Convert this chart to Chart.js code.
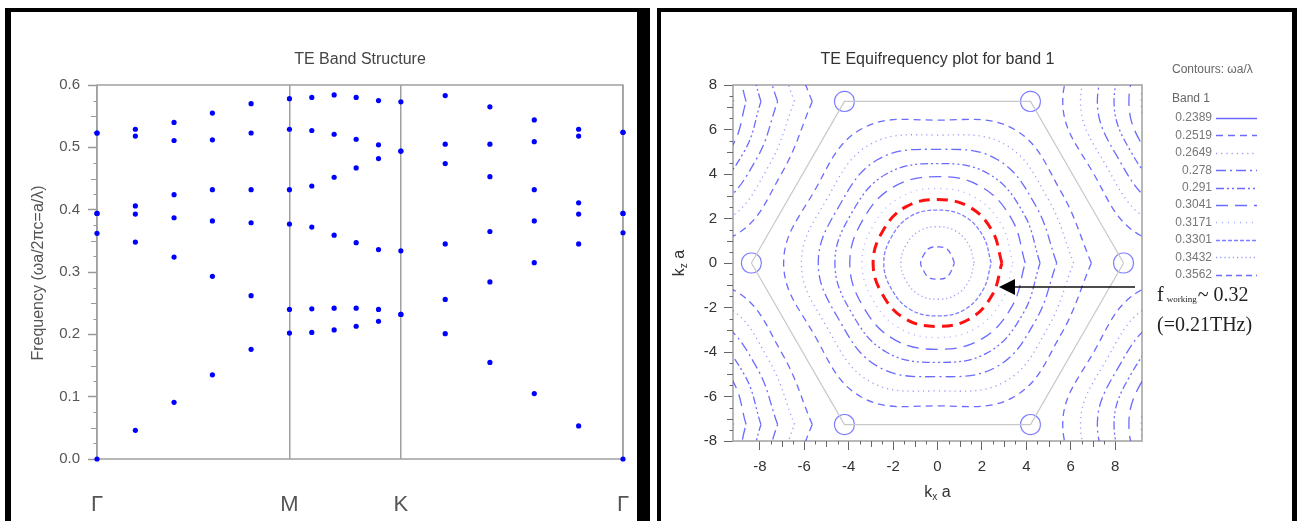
<!DOCTYPE html>
<html>
<head>
<meta charset="utf-8">
<script src="https://cdn.jsdelivr.net/npm/chart.js@4.4.1/dist/chart.umd.min.js"></script>
<style>
  body { margin: 0; background: #fff; }
  #page { position: relative; width: 1297px; height: 521px; overflow: hidden; background: #fff; }
  .blk { position: absolute; background: #000; }
  canvas { position: absolute; }
</style>
</head>
<body>
<div id="page">
  <div class="blk" style="left:5px;top:8px;width:645px;height:4px"></div>
  <div class="blk" style="left:5px;top:8px;width:6px;height:513px"></div>
  <div class="blk" style="left:637px;top:8px;width:13px;height:513px"></div>
  <div class="blk" style="left:657px;top:8px;width:640px;height:4px"></div>
  <div class="blk" style="left:657px;top:8px;width:4px;height:513px"></div>
  <div class="blk" style="left:1292px;top:8px;width:5px;height:513px"></div>
  <canvas id="bandChart" width="625" height="509" style="left:12px;top:12px"></canvas>
  <canvas id="contourChart" width="631" height="509" style="left:661px;top:12px"></canvas>
</div>
<script>
// ---- band structure (left) ----
// position of each computed k point along Γ-M-K-Γ
var kPath = [0, 0.115, 0.231, 0.346, 0.462, 0.577, 0.644, 0.711, 0.777, 0.844, 0.911, 1.044, 1.178, 1.311, 1.444, 1.577];
var symPos = [0, 0.577, 0.911, 1.577];
var symLabels = ["Γ", "M", "K", "Γ"];
var freqTicks = [0, 0.1, 0.2, 0.3, 0.4, 0.5, 0.6];

var band1 = [0, 0.046, 0.091, 0.135, 0.176, 0.202, 0.203, 0.207, 0.213, 0.221, 0.232, 0.201, 0.155, 0.105, 0.053, 0];
var band2 = [0.362, 0.348, 0.324, 0.293, 0.262, 0.240, 0.241, 0.242, 0.242, 0.240, 0.232, 0.256, 0.284, 0.315, 0.345, 0.363];
var band3 = [0.394, 0.393, 0.387, 0.382, 0.379, 0.377, 0.372, 0.359, 0.347, 0.336, 0.334, 0.345, 0.365, 0.382, 0.393, 0.394];
var band4 = [0.394, 0.406, 0.424, 0.432, 0.432, 0.432, 0.438, 0.452, 0.467, 0.482, 0.494, 0.474, 0.453, 0.432, 0.411, 0.394];
var band5 = [0.523, 0.518, 0.511, 0.512, 0.523, 0.529, 0.527, 0.521, 0.513, 0.504, 0.494, 0.505, 0.505, 0.509, 0.518, 0.524];
var band6 = [0.523, 0.529, 0.540, 0.555, 0.570, 0.578, 0.580, 0.584, 0.580, 0.575, 0.573, 0.583, 0.565, 0.544, 0.529, 0.524];

// ---- equifrequency contours (right) ----
var kTicks = [-8, -6, -4, -2, 0, 2, 4, 6, 8];
var contourLevels = ["0.2389", "0.2519", "0.2649", "0.278", "0.291", "0.3041", "0.3171", "0.3301", "0.3432", "0.3562"];

// contour outlines, (kx a, kz a) around a zone centre
var c2389 = [[0.45,0],[0.39,0.23],[0.23,0.39],[0,0.45],[-0.23,0.39],[-0.39,0.23],[-0.45,0],[-0.39,-0.23],[-0.23,-0.39],[0,-0.45],[0.23,-0.39],[0.39,-0.23]];
var c2519 = [[6.93,0],[5.56,3.21],[3.47,6.00],[0,6.42],[-3.47,6.00],[-5.56,3.21],[-6.93,0],[-5.56,-3.21],[-3.47,-6.00],[0,-6.42],[3.47,-6.00],[5.56,-3.21]];
var c2649 = [[6.13,0],[4.98,2.88],[3.07,5.31],[0,5.75],[-3.07,5.31],[-4.98,2.88],[-6.13,0],[-4.98,-2.88],[-3.07,-5.31],[0,-5.75],[3.07,-5.31],[4.98,-2.88]];
var c278 = [[5.37,0],[4.43,2.56],[2.69,4.65],[0,5.11],[-2.69,4.65],[-4.43,2.56],[-5.37,0],[-4.43,-2.56],[-2.69,-4.65],[0,-5.11],[2.69,-4.65],[4.43,-2.56]];
var c291 = [[4.62,0],[3.87,2.24],[2.31,4.00],[0,4.47],[-2.31,4.00],[-3.87,2.24],[-4.62,0],[-3.87,-2.24],[-2.31,-4.00],[0,-4.47],[2.31,-4.00],[3.87,-2.24]];
var c3041 = [[3.95,0],[3.36,1.94],[1.98,3.42],[0,3.88],[-1.98,3.42],[-3.36,1.94],[-3.95,0],[-3.36,-1.94],[-1.98,-3.42],[0,-3.88],[1.98,-3.42],[3.36,-1.94]];
var c3171 = [[3.40,0],[2.90,1.68],[1.70,2.94],[0,3.35],[-1.70,2.94],[-2.90,1.68],[-3.40,0],[-2.90,-1.68],[-1.70,-2.94],[0,-3.35],[1.70,-2.94],[2.90,-1.68]];
var c3301 = [[2.42,0],[2.06,1.19],[1.21,2.10],[0,2.38],[-1.21,2.10],[-2.06,1.19],[-2.42,0],[-2.06,-1.19],[-1.21,-2.10],[0,-2.38],[1.21,-2.10],[2.06,-1.19]];
var c3432 = [[1.65,0],[1.41,0.82],[0.83,1.43],[0,1.63],[-0.83,1.43],[-1.41,0.82],[-1.65,0],[-1.41,-0.82],[-0.83,-1.43],[0,-1.63],[0.83,-1.43],[1.41,-0.82]];
var c3562 = [[0.76,0],[0.62,0.36],[0.38,0.66],[0,0.72],[-0.38,0.66],[-0.62,0.36],[-0.76,0],[-0.62,-0.36],[-0.38,-0.66],[0,-0.72],[0.38,-0.66],[0.62,-0.36]];
// working frequency contour (~0.32), highlighted in red
var cWorking = [[2.90,0],[2.47,1.43],[1.45,2.51],[0,2.85],[-1.45,2.51],[-2.47,1.43],[-2.90,0],[-2.47,-1.43],[-1.45,-2.51],[0,-2.85],[1.45,-2.51],[2.47,-1.43]];

// first Brillouin zone corners and the neighbouring zone centres
var bzHex = [[8.38,0],[4.19,7.26],[-4.19,7.26],[-8.38,0],[-4.19,-7.26],[4.19,-7.26],[8.38,0]];
var zoneCenters = [[0,0],[12.57,7.26],[12.57,-7.26],[-12.57,7.26],[-12.57,-7.26]];

var contourDash = [[], [7,5], [1.2,4], [10,4,2,4], [8,3,2,3,2,3], [12,7], [1,5], [4,2], [1.2,3], [6,4]];
var contourAlpha = [0.8, 0.8, 0.55, 0.8, 0.8, 0.8, 0.45, 0.7, 0.55, 0.8];

Chart.defaults.font.family = 'Arial, "Liberation Sans", sans-serif';

function shifted(pts, c) {
  var out = pts.map(function (p) { return { x: p[0] + c[0], y: p[1] + c[1] }; });
  out.push({ x: pts[0][0] + c[0], y: pts[0][1] + c[1] });
  return out;
}

var bandDecor = {
  id: "bandDecor",
  beforeDatasetsDraw: function (chart) {
    var ctx = chart.ctx, a = chart.chartArea, y = chart.scales.y;
    ctx.save();
    ctx.strokeStyle = "#a0a0a0";
    ctx.lineWidth = 1.5;
    ctx.strokeRect(a.left, a.top, a.right - a.left, a.bottom - a.top);
    ctx.strokeStyle = "#999";
    ctx.lineWidth = 1;
    for (var i = 1; i < 24; i++) {
      if (i % 4 === 0) continue;
      var py = Math.round(y.getPixelForValue(i * 0.025)) + 0.5;
      var len = (i % 2 === 0) ? 6 : 3.5;
      ctx.beginPath();
      ctx.moveTo(a.left - len, py);
      ctx.lineTo(a.left, py);
      ctx.stroke();
    }
    ctx.fillStyle = "#444";
    ctx.font = '16px Arial, "Liberation Sans", sans-serif';
    ctx.textAlign = "center";
    ctx.textBaseline = "middle";
    ctx.fillText("TE Band Structure", (a.left + a.right) / 2, 48);
    ctx.fillStyle = "#555";
    ctx.translate(27, 261);
    ctx.rotate(-Math.PI / 2);
    ctx.fillText("Frequency (ωa/2πc=a/λ)", 0, 0);
    ctx.restore();
  }
};

var contourDecor = {
  id: "contourDecor",
  beforeDatasetsDraw: function (chart) {
    var ctx = chart.ctx, a = chart.chartArea, x = chart.scales.x, y = chart.scales.y;
    ctx.save();
    ctx.strokeStyle = "#a0a0a0";
    ctx.lineWidth = 1.5;
    ctx.strokeRect(a.left, a.top, a.right - a.left, a.bottom - a.top);
    ctx.strokeStyle = "#666";
    ctx.lineWidth = 1;
    for (var i = -16; i <= 16; i++) {
      if (i % 4 === 0) continue;
      var len = (i % 2 === 0) ? 6 : 3.5;
      var py = Math.round(y.getPixelForValue(i * 0.5)) + 0.5;
      ctx.beginPath(); ctx.moveTo(a.left - len, py); ctx.lineTo(a.left, py); ctx.stroke();
      var px = Math.round(x.getPixelForValue(i * 0.5)) + 0.5;
      ctx.beginPath(); ctx.moveTo(px, a.bottom); ctx.lineTo(px, a.bottom + len); ctx.stroke();
    }
    ctx.fillStyle = "#333";
    ctx.font = '16px Arial, "Liberation Sans", sans-serif';
    ctx.textAlign = "center";
    ctx.textBaseline = "middle";
    ctx.fillText("TE Equifrequency plot for band 1", (a.left + a.right) / 2, 48);
    ctx.restore();
  },
  afterDraw: function (chart) {
    var ctx = chart.ctx, a = chart.chartArea;
    ctx.save();
    // axis titles with subscripts
    function kLabel(sub) {
      ctx.font = '16px Arial, "Liberation Sans", sans-serif';
      var w1 = ctx.measureText("k").width;
      var w3 = ctx.measureText(" a").width;
      ctx.font = '10px Arial, "Liberation Sans", sans-serif';
      var w2 = ctx.measureText(sub).width;
      var x0 = -(w1 + w2 + w3) / 2;
      ctx.textAlign = "left";
      ctx.textBaseline = "alphabetic";
      ctx.font = '16px Arial, "Liberation Sans", sans-serif';
      ctx.fillText("k", x0, 6);
      ctx.font = '10px Arial, "Liberation Sans", sans-serif';
      ctx.fillText(sub, x0 + w1, 9);
      ctx.font = '16px Arial, "Liberation Sans", sans-serif';
      ctx.fillText(" a", x0 + w1 + w2, 6);
    }
    ctx.fillStyle = "#333";
    ctx.save();
    ctx.translate((a.left + a.right) / 2, 479);
    kLabel("x");
    ctx.restore();
    ctx.save();
    ctx.translate(17, 251);
    ctx.rotate(-Math.PI / 2);
    kLabel("z");
    ctx.restore();

    // legend
    ctx.fillStyle = "#666";
    ctx.font = '12px Arial, "Liberation Sans", sans-serif';
    ctx.textAlign = "left";
    ctx.textBaseline = "middle";
    ctx.fillText("Contours: ωa/λ", 511, 58);
    ctx.fillText("Band 1", 511, 87);
    ctx.textAlign = "right";
    contourLevels.forEach(function (lv, i) {
      var yy = 106 + 17.4 * i;
      ctx.fillStyle = "#777";
      ctx.fillText(lv, 551, yy);
      ctx.strokeStyle = "rgba(70,70,255," + contourAlpha[i] + ")";
      ctx.lineWidth = 1.3;
      ctx.setLineDash(contourDash[i]);
      ctx.beginPath();
      ctx.moveTo(555, Math.round(yy) + 0.5);
      ctx.lineTo(596, Math.round(yy) + 0.5);
      ctx.stroke();
    });
    ctx.setLineDash([]);

    // arrow to the working contour
    ctx.strokeStyle = "#111";
    ctx.fillStyle = "#000";
    ctx.lineWidth = 1.5;
    ctx.beginPath();
    ctx.moveTo(474, 275);
    ctx.lineTo(352, 275);
    ctx.stroke();
    ctx.beginPath();
    ctx.moveTo(338, 275);
    ctx.lineTo(354, 267);
    ctx.lineTo(354, 283);
    ctx.closePath();
    ctx.fill();

    ctx.fillStyle = "#222";
    ctx.textAlign = "left";
    ctx.textBaseline = "alphabetic";
    ctx.font = '20px "Liberation Serif", "Times New Roman", serif';
    ctx.fillText("f", 496, 289);
    var fw = ctx.measureText("f ").width;
    ctx.font = '9px "Liberation Serif", "Times New Roman", serif';
    ctx.fillText("working", 496 + fw - 2, 290);
    var ww = ctx.measureText("working").width;
    ctx.font = '20px "Liberation Serif", "Times New Roman", serif';
    ctx.fillText("~ 0.32", 496 + fw + ww - 1, 289);
    ctx.fillText("(=0.21THz)", 496, 319);
    ctx.restore();
  }
};

document.addEventListener("DOMContentLoaded", function () {
  var bands = [band1, band2, band3, band4, band5, band6];

  new Chart(document.getElementById("bandChart"), {
    type: "scatter",
    data: {
      datasets: bands.map(function (b) {
        return {
          data: kPath.map(function (k, i) { return { x: k, y: b[i] }; }),
          backgroundColor: "#0000ff",
          borderWidth: 0,
          pointRadius: 2.6,
          clip: 6
        };
      })
    },
    options: {
      responsive: false,
      animation: false,
      devicePixelRatio: 1,
      layout: { padding: { left: 0, right: 14, top: 73, bottom: 0 } },
      plugins: { legend: { display: false }, tooltip: { enabled: false } },
      scales: {
        x: {
          type: "linear",
          min: 0,
          max: 1.577,
          afterBuildTicks: function (s) { s.ticks = symPos.map(function (v) { return { value: v }; }); },
          afterFit: function (s) { s.height = 62; },
          ticks: {
            autoSkip: false,
            maxRotation: 0,
            padding: 0,
            color: "#555",
            font: { size: 22 },
            callback: function (v, i) { return symLabels[i]; }
          },
          grid: { color: "#a0a0a0", lineWidth: 1.5, drawTicks: true, tickLength: 33, tickColor: "rgba(0,0,0,0)" },
          border: { display: false }
        },
        y: {
          min: 0,
          max: 0.6,
          afterBuildTicks: function (s) { s.ticks = freqTicks.map(function (v) { return { value: v }; }); },
          afterFit: function (s) { s.width = 85; },
          ticks: {
            padding: 8,
            color: "#555",
            font: { size: 15 },
            callback: function (v) { return v.toFixed(1); }
          },
          grid: { drawOnChartArea: false, tickLength: 9, tickColor: "#999", tickWidth: 1.5 },
          border: { display: false }
        }
      }
    },
    plugins: [bandDecor]
  });

  var sets = [];
  sets.push({
    data: bzHex.map(function (p) { return { x: p[0], y: p[1] }; }),
    borderColor: "#c8c8c8",
    borderWidth: 1.2,
    tension: 0
  });
  var shapes = [c2519, c2649, c278, c291, c3041, c3171, c3301, c3432, c3562];
  zoneCenters.forEach(function (c) {
    shapes.forEach(function (s, j) {
      var i = j + 1;
      sets.push({
        data: shifted(s, c),
        borderColor: "rgba(70,70,255," + contourAlpha[i] + ")",
        borderWidth: 1.3,
        borderDash: contourDash[i],
        tension: 0.4
      });
    });
  });
  bzHex.slice(0, 6).forEach(function (v) {
    sets.push({
      data: shifted(c2389, v),
      borderColor: "rgba(70,70,255,0.7)",
      borderWidth: 1.2,
      tension: 0.4
    });
  });
  sets.push({
    data: shifted(cWorking, [0, 0]),
    borderColor: "#ff1010",
    borderWidth: 3,
    borderDash: [11, 7],
    tension: 0.4
  });
  sets.forEach(function (d) { d.showLine = true; d.pointRadius = 0; d.fill = false; });

  new Chart(document.getElementById("contourChart"), {
    type: "scatter",
    data: { datasets: sets },
    options: {
      responsive: false,
      animation: false,
      devicePixelRatio: 1,
      elements: { line: { capBezierPoints: false } },
      layout: { padding: { left: 0, right: 150, top: 73, bottom: 0 } },
      plugins: { legend: { display: false }, tooltip: { enabled: false } },
      scales: {
        x: {
          type: "linear",
          min: -9.21,
          max: 9.21,
          afterBuildTicks: function (s) { s.ticks = kTicks.map(function (v) { return { value: v }; }); },
          afterFit: function (s) { s.height = 80; },
          ticks: { padding: 8, color: "#333", font: { size: 15 }, maxRotation: 0, autoSkip: false },
          grid: { drawOnChartArea: false, tickLength: 9, tickColor: "#666" },
          border: { display: false }
        },
        y: {
          min: -8,
          max: 8,
          afterBuildTicks: function (s) { s.ticks = kTicks.map(function (v) { return { value: v }; }); },
          afterFit: function (s) { s.width = 72; },
          ticks: { padding: 7, color: "#333", font: { size: 15 } },
          grid: { drawOnChartArea: false, tickLength: 9, tickColor: "#666" },
          border: { display: false }
        }
      }
    },
    plugins: [contourDecor]
  });
});
</script>
</body>
</html>
